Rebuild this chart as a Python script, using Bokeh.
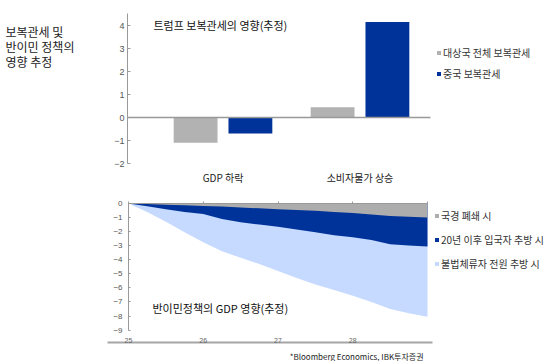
from bokeh.plotting import figure
from bokeh.models import Range1d, Label, Legend, LegendItem, LinearAxis, FixedTicker
from bokeh.layouts import column
from bokeh.embed import file_html
from bokeh.resources import INLINE

KR = "Noto Sans CJK KR"
LAT = "Liberation Sans"

# ---------------- data ----------------
# top: retaliatory tariff impact (%p)
categories = ["GDP 하락", "소비자물가 상승"]
all_partners = [-1.1, 0.45]
china = [-0.7, 4.15]
top_series = ["대상국 전체 보복관세", "중국 보복관세"]
top_yticks = [-2, -1, 0, 1, 2, 3, 4]
left_title = ["보복관세 및", "반이민 정책의", "영향 추정"]

# bottom: anti-immigration GDP impact (cumulative, %)
years = [25.0, 25.25, 25.5, 25.75, 26.0, 26.25, 26.5, 26.75, 27.0,
         27.25, 27.5, 27.75, 28.0, 28.25, 28.5, 28.75, 29.0]
border_closure = [0, -0.04, -0.08, -0.12, -0.17, -0.21, -0.28, -0.34, -0.40,
                  -0.46, -0.52, -0.60, -0.68, -0.78, -0.88, -0.94, -0.99]
deport_post2020 = [0, -0.20, -0.40, -0.60, -0.75, -1.10, -1.33, -1.50, -1.65,
                   -1.85, -2.05, -2.25, -2.40, -2.60, -2.90, -2.98, -3.05]
deport_all = [0, -0.60, -1.30, -2.05, -2.75, -3.40, -3.85, -4.30, -4.80,
              -5.30, -5.75, -6.15, -6.55, -7.00, -7.50, -7.80, -8.05]
bottom_series = ["국경 폐쇄 시", "20년 이후 입국자 추방 시", "불법체류자 전원 추방 시"]
bottom_xticks = [25, 26, 27, 28]
bottom_yticks = [0, -1, -2, -3, -4, -5, -6, -7, -8, -9]

GRAY = "#B2B2B2"
BLUE = "#003399"
LIGHT = "#C6DAFF"
GRAY2 = "#ADADAD"
AXIS = "#999999"

W = 559
H_TOP = 193
H_BOT = 168


def minus(v):
    return str(v).replace("-", "\u2212")


# pixel layout helpers (top chart)
def tx(px):
    return (px - 222.5) / 137.0


def ty(py):
    return (117.0 - py) / 23.0


# pixel layout helpers (bottom chart, page y)
def bx(px):
    return 25 + (px - 128.0) / 74.75


def by(py):
    return -(py - 203.0) / 14.07


# ---------------- top chart ----------------
p1 = figure(width=W, height=H_TOP, output_backend="svg", toolbar_location=None,
            x_range=Range1d(tx(0), tx(W)), y_range=Range1d(ty(H_TOP), ty(0)),
            min_border_left=0, min_border_right=0, min_border_top=0, min_border_bottom=0)
p1.outline_line_color = None
p1.grid.visible = False

idx = list(range(len(categories)))
r_all = p1.vbar(x=[i - 0.2 for i in idx], top=all_partners, width=0.32,
                fill_color=GRAY, line_color=None)
r_cn = p1.vbar(x=[i + 0.2 for i in idx], top=china, width=0.32,
               fill_color=BLUE, line_color=None)

# category labels
xa = p1.xaxis[0]
xa.fixed_location = ty(163)
xa.ticker = FixedTicker(ticks=idx)
xa.major_label_overrides = {i: c for i, c in zip(idx, categories)}
xa.axis_line_color = None
xa.major_tick_line_color = None
xa.minor_tick_line_color = None
xa.major_label_standoff = 0
xa.major_label_text_font = KR
xa.major_label_text_font_size = "10px"
xa.major_label_text_color = "#222222"

# zero line
zero_axis = LinearAxis(fixed_location=0, bounds=(tx(127), tx(430)),
                       ticker=FixedTicker(ticks=[]), axis_line_color=AXIS,
                       axis_line_width=1.5, major_tick_line_color=None,
                       minor_tick_line_color=None)
p1.add_layout(zero_axis, "below")

ya = p1.yaxis[0]
ya.fixed_location = tx(127)
ya.bounds = (ty(163), ty(13))
ya.ticker = FixedTicker(ticks=top_yticks)
ya.major_label_overrides = {v: minus(v) for v in top_yticks}
ya.axis_line_color = AXIS
ya.major_tick_line_color = AXIS
ya.major_tick_in = 3
ya.major_tick_out = 0
ya.minor_tick_line_color = None
ya.major_label_standoff = 3
ya.major_label_text_font = LAT
ya.major_label_text_font_size = "9px"
ya.major_label_text_color = "#555555"

p1.add_layout(Label(x=tx(153), y=ty(24), text="트럼프 보복관세의 영향(추정)",
                    text_font=KR, text_font_size="11px", text_color="#111111",
                    text_align="left", text_baseline="middle"))
for k, line in enumerate(left_title):
    p1.add_layout(Label(x=tx(5), y=ty(31 + 15 * k), text=line,
                        text_font=KR, text_font_size="12px", text_color="#222222",
                        text_align="left", text_baseline="middle"))

leg1 = Legend(items=[LegendItem(label=top_series[0], renderers=[r_all]),
                     LegendItem(label=top_series[1], renderers=[r_cn])],
              location=(436, H_TOP - 82), orientation="vertical",
              glyph_width=5, glyph_height=5, label_height=18, spacing=3,
              padding=0, margin=0, border_line_color=None, background_fill_alpha=0,
              label_text_font=KR, label_text_font_size="10px", label_standoff=2,
              label_text_color="#333333")
p1.add_layout(leg1)

# ---------------- bottom chart ----------------
p2 = figure(width=W, height=H_BOT, output_backend="svg", toolbar_location=None,
            x_range=Range1d(bx(0), bx(W)), y_range=Range1d(by(361), by(193)),
            min_border_left=0, min_border_right=0, min_border_top=0, min_border_bottom=0)
p2.outline_line_color = None
p2.grid.visible = False

zeros = [0] * len(years)
rb_all = p2.varea(x=years, y1=zeros, y2=deport_all, fill_color=LIGHT)
rb_post = p2.varea(x=years, y1=zeros, y2=deport_post2020, fill_color=BLUE)
rb_border = p2.varea(x=years, y1=zeros, y2=border_closure, fill_color=GRAY2)

# separator line under the chart
sep = p2.xaxis[0]
sep.fixed_location = by(342)
sep.bounds = (bx(107), bx(432))
sep.ticker = FixedTicker(ticks=[])
sep.axis_line_color = "#A6A6A6"
sep.axis_line_width = 2
sep.major_tick_line_color = None
sep.minor_tick_line_color = None

# year labels
lab_axis = LinearAxis(fixed_location=-9, ticker=FixedTicker(ticks=bottom_xticks),
                      axis_line_color=None, major_tick_line_color=None,
                      minor_tick_line_color=None, major_label_standoff=2,
                      major_label_text_font=LAT, major_label_text_font_size="7px",
                      major_label_text_color="#666666")
p2.add_layout(lab_axis, "below")

# zero line with small ticks
top_axis = LinearAxis(fixed_location=0, bounds=(25, 29),
                      ticker=FixedTicker(ticks=[25, 26, 27, 28, 29]),
                      axis_line_color=AXIS, major_tick_line_color=AXIS,
                      major_tick_in=0, major_tick_out=2, minor_tick_line_color=None,
                      major_label_overrides={25: "", 26: "", 27: "", 28: "", 29: ""})
p2.add_layout(top_axis, "above")

yb = p2.yaxis[0]
yb.fixed_location = 25
yb.bounds = (-9, 0)
yb.ticker = FixedTicker(ticks=bottom_yticks)
yb.major_label_overrides = {v: minus(v) for v in bottom_yticks}
yb.axis_line_color = AXIS
yb.major_tick_line_color = AXIS
yb.major_tick_in = 2
yb.major_tick_out = 0
yb.minor_tick_line_color = None
yb.major_label_standoff = 6
yb.major_label_text_font = LAT
yb.major_label_text_font_size = "8px"
yb.major_label_text_color = "#555555"

p2.add_layout(Label(x=bx(152), y=by(307), text="반이민정책의 GDP 영향(추정)",
                    text_font=KR, text_font_size="11px", text_color="#111111",
                    text_align="left", text_baseline="middle"))
p2.add_layout(Label(x=bx(423), y=by(356), text="*Bloomberg Economics, IBK투자증권",
                    text_font=KR, text_font_size="8px", text_color="#222222",
                    text_align="right", text_baseline="middle"))

leg2 = Legend(items=[LegendItem(label=bottom_series[0], renderers=[rb_border]),
                     LegendItem(label=bottom_series[1], renderers=[rb_post]),
                     LegendItem(label=bottom_series[2], renderers=[rb_all])],
              location=(434, 361 - 273), orientation="vertical",
              glyph_width=5, glyph_height=5, label_height=20, spacing=4,
              padding=0, margin=0, border_line_color=None, background_fill_alpha=0,
              label_text_font=KR, label_text_font_size="10px", label_standoff=2,
              label_text_color="#333333")
p2.add_layout(leg2)

layout = column(p1, p2, spacing=0)
open("out.html", "w").write(file_html(layout, INLINE))
